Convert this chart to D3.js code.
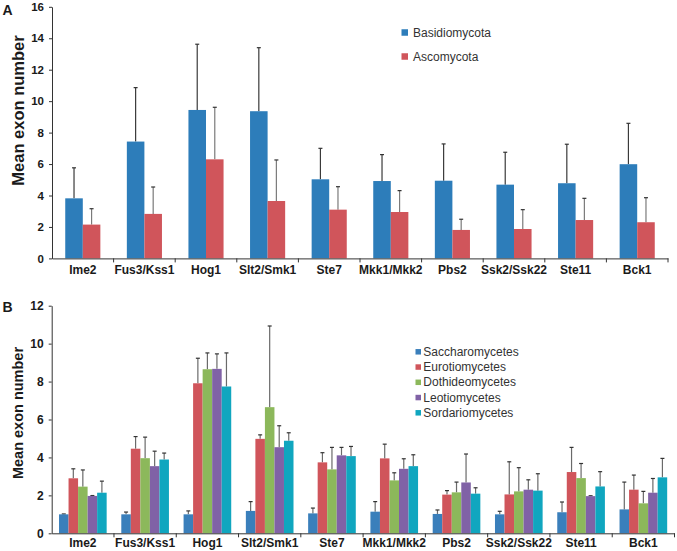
<!DOCTYPE html>
<html>
<head>
<meta charset="utf-8">
<script src="https://cdn.jsdelivr.net/npm/d3@7"></script>
<style>
  html, body { margin: 0; padding: 0; background: #fff; }
  svg { display: block; font-family: "Liberation Sans", Arial, sans-serif; }
</style>
</head>
<body>
<svg id="chart" width="677" height="551"></svg>
<script>
// ---------- DATA ----------
const genes = ['Ime2','Fus3/Kss1','Hog1','Slt2/Smk1','Ste7','Mkk1/Mkk2','Pbs2','Ssk2/Ssk22','Ste11','Bck1'];

// Panel A
const seriesA = ['Basidiomycota', 'Ascomycota'];
const basidioMean = [3.82, 7.43, 9.44, 9.36, 5.03, 4.92, 4.94, 4.69, 4.78, 5.99];
const basidioSD   = [1.94, 3.43, 4.18, 4.04, 1.97, 1.68, 2.34, 2.06, 2.48, 2.60];
const ascoMean    = [2.15, 2.83, 6.30, 3.65, 3.10, 2.95, 1.81, 1.87, 2.44, 2.30];
const ascoSD      = [1.01, 1.71, 3.31, 2.61, 1.46, 1.36, 0.68, 1.23, 1.38, 1.56];
const ticksA = [0, 2, 4, 6, 8, 10, 12, 14, 16];

// Panel B
const seriesB = ['Saccharomycetes','Eurotiomycetes','Dothideomycetes','Leotiomycetes','Sordariomycetes'];
const saccMean  = [1.00, 1.00, 1.00, 1.18, 1.05, 1.14, 1.02, 1.00, 1.11, 1.26];
const saccSD    = [0.02, 0.12, 0.18, 0.49, 0.28, 0.53, 0.21, 0.16, 0.54, 1.44];
const euroMean  = [2.90, 4.46, 7.91, 4.98, 3.74, 3.95, 2.04, 2.05, 3.23, 2.30];
const euroSD    = [0.50, 0.64, 1.32, 0.21, 0.51, 0.75, 0.21, 1.72, 1.30, 0.77];
const dothiMean = [2.46, 3.96, 8.65, 6.65, 3.37, 2.79, 2.16, 2.21, 2.91, 1.58];
const dothiSD   = [0.88, 1.11, 0.86, 4.28, 1.16, 0.40, 0.54, 1.25, 0.77, 0.63];
const leoMean   = [1.97, 3.54, 8.67, 4.54, 4.11, 3.40, 2.68, 2.30, 1.96, 2.14];
const leoSD     = [0.02, 0.79, 0.79, 1.13, 0.42, 0.53, 1.50, 0.52, 0.02, 0.75];
const sordMean  = [2.14, 3.89, 7.74, 4.88, 4.07, 3.54, 2.09, 2.25, 2.47, 2.95];
const sordSD    = [0.61, 0.34, 1.77, 0.42, 0.51, 0.60, 0.31, 0.89, 0.78, 1.00];
const ticksB = [0, 2, 4, 6, 8, 10, 12];

// ---------- STYLE ----------
const colorsA = ['#2d7dba', '#d0555b'];
const errColorsA = ['#3a3a3a', '#7a7a7a'];
const colorsB = ['#3a7fbb', '#d0555b', '#8cb85b', '#8062a6', '#10a6bf'];
const errColorB = '#6a6a6a';
const axisColor = '#333';
const textColor = '#1a1a1a';

const svg = d3.select('#chart');

function drawPanel(opts) {
  const g = svg.append('g');
  const x = d3.scaleBand().domain(genes).range(opts.xRange).paddingInner(0).paddingOuter(0);
  const y = d3.scaleLinear().domain(opts.yDomain).range(opts.yRange);
  const pad = (1 - opts.groupFrac) / 2;
  const xs = d3.scaleBand().domain(opts.series.map((d, i) => i))
    .range([x.bandwidth() * pad, x.bandwidth() * (1 - pad)]).padding(0);

  // bars
  opts.series.forEach((s, si) => {
    const means = opts.means[si], sds = opts.sds[si];
    const rows = genes.map((gname, gi) => ({ g: gname, m: means[gi], sd: sds[gi] }));
    const ec = opts.errColors ? opts.errColors[si] : opts.errColor;
    // error lines (upper only)
    g.selectAll(null).data(rows).enter().append('line')
      .attr('x1', d => x(d.g) + xs(si) + xs.bandwidth() / 2)
      .attr('x2', d => x(d.g) + xs(si) + xs.bandwidth() / 2)
      .attr('y1', d => y(d.m))
      .attr('y2', d => y(d.m + d.sd))
      .attr('stroke', ec).attr('stroke-width', 1.2);
    g.selectAll(null).data(rows).enter().append('line')
      .attr('x1', d => x(d.g) + xs(si) + xs.bandwidth() / 2 - 2)
      .attr('x2', d => x(d.g) + xs(si) + xs.bandwidth() / 2 + 2)
      .attr('y1', d => y(d.m + d.sd))
      .attr('y2', d => y(d.m + d.sd))
      .attr('stroke', '#333').attr('stroke-width', 1.2);
    g.selectAll(null).data(rows).enter().append('rect')
      .attr('x', d => x(d.g) + xs(si))
      .attr('width', xs.bandwidth())
      .attr('y', d => y(d.m))
      .attr('height', d => y(0) - y(d.m))
      .attr('fill', opts.colors[si]);
  });

  // y axis
  const ya = g.append('g')
    .attr('transform', `translate(${opts.xRange[0]},0)`)
    .call(d3.axisLeft(y).tickValues(opts.ticks).tickSize(3).tickPadding(5).tickSizeOuter(0));
  ya.select('.domain').attr('stroke', axisColor);
  ya.selectAll('.tick line').attr('stroke', axisColor);
  ya.selectAll('.tick text').attr('fill', textColor)
    .attr('font-size', opts.yTickFont).attr('font-weight', 'bold')
    .attr('font-family', '"Liberation Sans", Arial, sans-serif');

  // x axis
  const xa = g.append('g')
    .attr('transform', `translate(0,${y(0)})`)
    .call(d3.axisBottom(x).tickSize(0).tickPadding(opts.xPad).tickSizeOuter(0));
  xa.select('.domain').attr('stroke', axisColor);
  xa.selectAll('.tick text').attr('fill', textColor)
    .attr('font-size', 12).attr('font-weight', 'bold')
    .attr('font-family', '"Liberation Sans", Arial, sans-serif');
  xa.selectAll(null).data(genes).enter().append('line')
    .attr('x1', d => x(d) + x.bandwidth()).attr('x2', d => x(d) + x.bandwidth())
    .attr('y1', 0).attr('y2', 4).attr('stroke', axisColor);

  // y title
  g.append('text')
    .attr('transform', `translate(${opts.titleX},${opts.titleY}) rotate(-90)`)
    .attr('text-anchor', 'middle')
    .attr('dominant-baseline', 'central')
    .attr('font-size', opts.titleFont).attr('font-weight', 'bold')
    .attr('fill', textColor)
    .text('Mean exon number');

  // panel letter
  g.append('text').attr('x', 2.5).attr('y', opts.letterY)
    .attr('font-size', 14).attr('font-weight', 'bold').attr('fill', textColor)
    .text(opts.letter);

  // legend
  const lg = g.append('g');
  opts.series.forEach((s, si) => {
    const cy = opts.legY + si * opts.legStep;
    lg.append('rect').attr('x', opts.legX).attr('y', cy - opts.legSq / 2)
      .attr('width', opts.legSq).attr('height', opts.legSq).attr('fill', opts.colors[si]);
    lg.append('text').attr('x', opts.legTextX).attr('y', cy)
      .attr('dominant-baseline', 'central')
      .attr('font-size', 12).attr('fill', '#333').text(s);
  });
}

drawPanel({
  letter: 'A', letterY: 15,
  series: seriesA, means: [basidioMean, ascoMean], sds: [basidioSD, ascoSD],
  colors: colorsA, errColors: errColorsA,
  xRange: [52, 668], yDomain: [0, 16], yRange: [258.4, 6.8], ticks: ticksA,
  groupFrac: 0.57, yTickFont: 11.5, xPad: 7,
  titleX: 17.5, titleY: 110.5, titleFont: 16.5,
  legX: 401.5, legTextX: 413, legY: 32.5, legStep: 24, legSq: 6.5
});

drawPanel({
  letter: 'B', letterY: 311.5,
  series: seriesB, means: [saccMean, euroMean, dothiMean, leoMean, sordMean],
  sds: [saccSD, euroSD, dothiSD, leoSD, sordSD],
  colors: colorsB, errColor: errColorB,
  xRange: [51.7, 674.5], yDomain: [0, 12], yRange: [533.3, 305.7], ticks: ticksB,
  groupFrac: 0.765, yTickFont: 12, xPad: 5,
  titleX: 17.5, titleY: 413, titleFont: 14.5,
  legX: 415.5, legTextX: 423.3, legY: 351.8, legStep: 15.25, legSq: 5.5
});
</script>
</body>
</html>
